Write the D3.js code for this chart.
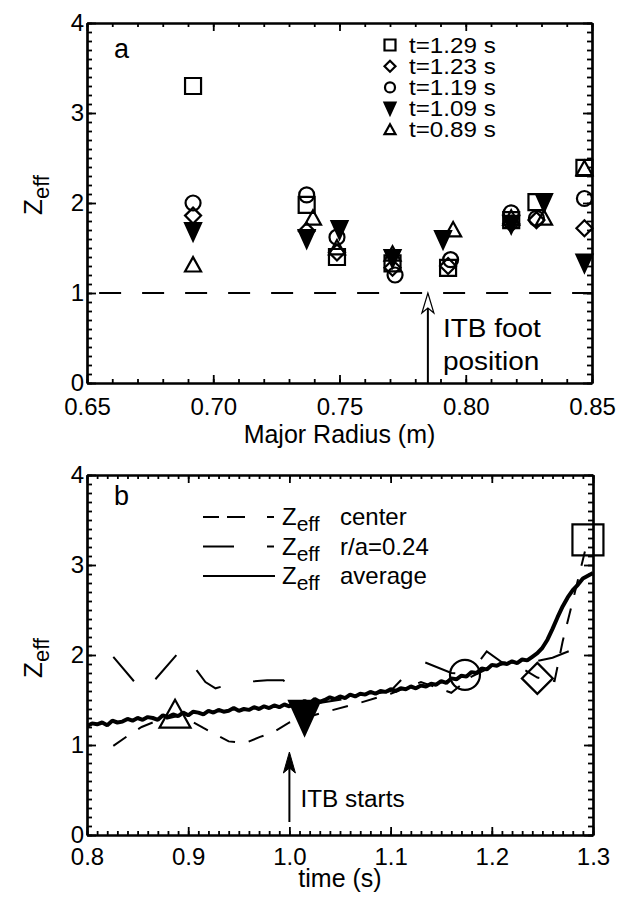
<!DOCTYPE html>
<html>
<head>
<meta charset="utf-8">
<script src="https://cdn.jsdelivr.net/npm/d3@7"></script>
<style>
  body { margin: 0; background: #fff; }
  svg text { font-family: "Liberation Sans", Arial, sans-serif; fill: #000; }
</style>
</head>
<body>
<div id="wrapper"></div>
<script>
// ---- panel a : Zeff profiles vs major radius ----
const legendTimes = ['t=1.29 s', 't=1.23 s', 't=1.19 s', 't=1.09 s', 't=0.89 s']
const markerTypes = ['square', 'diamond', 'circle', 'triDown', 'triUp']

const r129 = [0.692, 0.737, 0.749, 0.771, 0.793, 0.818, 0.828, 0.847]
const z129 = [3.30, 1.98, 1.40, 1.33, 1.28, 1.81, 2.01, 2.39]
const r123 = [0.692, 0.737, 0.749, 0.771, 0.793, 0.818, 0.828, 0.847]
const z123 = [1.86, 1.69, 1.45, 1.28, 1.30, 1.77, 1.81, 1.72]
const r119 = [0.692, 0.737, 0.749, 0.772, 0.794, 0.818, 0.828, 0.847]
const z119 = [2.00, 2.09, 1.62, 1.20, 1.37, 1.89, 1.83, 2.05]
const r109 = [0.692, 0.737, 0.750, 0.771, 0.791, 0.818, 0.831, 0.847]
const z109 = [1.68, 1.60, 1.70, 1.38, 1.59, 1.76, 2.00, 1.33]
const r089 = [0.692, 0.7395, 0.749, 0.771, 0.795, 0.818, 0.831, 0.847]
const z089 = [1.31, 1.83, 1.50, 1.43, 1.70, 1.83, 1.83, 2.38]

const xTicksA = [0.65, 0.70, 0.75, 0.80, 0.85]
const yTicks = [0, 1, 2, 3, 4]
const itbFootR = 0.785

// ---- panel b : Zeff time traces ----
const legendLabels = ['center', 'r/a=0.24', 'average']

const tCenter = [0.826, 0.840, 0.854, 0.867, 0.893, 0.915, 0.940, 0.956, 0.971, 0.984, 1.000, 1.030, 1.070, 1.100, 1.130, 1.160, 1.180, 1.200, 1.220, 1.245, 1.262, 1.270, 1.280, 1.292]
const zCenter = [0.99, 1.10, 1.20, 1.26, 1.33, 1.19, 1.04, 1.02, 1.09, 1.14, 1.25, 1.35, 1.47, 1.57, 1.70, 1.58, 1.76, 1.87, 1.92, 1.75, 1.71, 2.15, 2.60, 3.15]

const tMid = [0.826, 0.856, 0.893, 0.917, 0.927, 0.946, 0.978, 0.994, 1.006, 1.025, 1.060, 1.100, 1.129, 1.160, 1.178, 1.195, 1.210, 1.230, 1.260, 1.280, 1.293]
const zMid = [1.98, 1.58, 2.06, 1.70, 1.63, 1.69, 1.72, 1.72, 1.58, 1.46, 1.52, 1.60, 1.94, 1.80, 1.79, 2.04, 1.92, 1.90, 1.97, 2.06, 1.92]

const tAvg = [0.800, 0.805, 0.810, 0.815, 0.820, 0.825, 0.830, 0.835, 0.840, 0.845,
  0.850, 0.855, 0.860, 0.865, 0.870, 0.875, 0.880, 0.885, 0.890, 0.895,
  0.900, 0.905, 0.910, 0.915, 0.920, 0.925, 0.930, 0.935, 0.940, 0.945,
  0.950, 0.955, 0.960, 0.965, 0.970, 0.975, 0.980, 0.985, 0.990, 0.995,
  1.000, 1.005, 1.010, 1.015, 1.020, 1.025, 1.030, 1.035, 1.040, 1.045,
  1.050, 1.055, 1.060, 1.065, 1.070, 1.075, 1.080, 1.085, 1.090, 1.095,
  1.100, 1.105, 1.110, 1.115, 1.120, 1.125, 1.130, 1.135, 1.140, 1.145,
  1.150, 1.155, 1.160, 1.165, 1.170, 1.175, 1.180, 1.185, 1.190, 1.195,
  1.200, 1.205, 1.210, 1.215, 1.220, 1.225, 1.230, 1.235, 1.240, 1.245,
  1.250, 1.255, 1.260, 1.265, 1.270, 1.275, 1.280, 1.285, 1.290, 1.295, 1.300]
const zAvg = [1.21, 1.24, 1.23, 1.25, 1.22, 1.27, 1.25, 1.26, 1.29, 1.27,
  1.30, 1.28, 1.31, 1.30, 1.28, 1.33, 1.31, 1.34, 1.32, 1.36,
  1.33, 1.37, 1.36, 1.34, 1.38, 1.36, 1.39, 1.37, 1.38, 1.41,
  1.38, 1.40, 1.39, 1.42, 1.40, 1.43, 1.41, 1.44, 1.42, 1.45,
  1.43, 1.46, 1.45, 1.49, 1.46, 1.51, 1.48, 1.50, 1.53, 1.51,
  1.54, 1.52, 1.56, 1.54, 1.57, 1.56, 1.59, 1.57, 1.60, 1.59,
  1.62, 1.60, 1.63, 1.62, 1.65, 1.63, 1.66, 1.65, 1.68, 1.67,
  1.71, 1.69, 1.74, 1.73, 1.77, 1.76, 1.81, 1.80, 1.85, 1.84,
  1.89, 1.88, 1.91, 1.90, 1.93, 1.91, 1.95, 1.94, 1.98, 2.02,
  2.08, 2.17, 2.29, 2.42, 2.54, 2.64, 2.72, 2.78, 2.85, 2.88, 2.91]

// big markers on the time traces
const markTimes = [0.887, 1.015, 1.1735, 1.245, 1.295]
const markZeff = [1.33, 1.30, 1.78, 1.74, 3.28]
const markTypesB = ['triUp', 'triDown', 'circle', 'diamond', 'square']

const xTicksB = [0.8, 0.9, 1.0, 1.1, 1.2, 1.3]
const itbStart = 1.0

// ---- helpers ----
function markerPath(type, s) {
  // s = half size
  if (type === 'square') return `M${-s},${-s}H${s}V${s}H${-s}Z`
  if (type === 'diamond') return `M0,${-s}L${s},0L0,${s}L${-s},0Z`
  if (type === 'triUp') return `M0,${-s}L${s},${s * 0.8}L${-s},${s * 0.8}Z`
  return `M${-s},${-s * 1.1}L${s},${-s * 1.1}L0,${s * 1.1}Z`
}

function drawMarker(g, type, x, y, s, sw) {
  if (type === 'circle') {
    g.append('circle').attr('cx', x).attr('cy', y).attr('r', s)
      .attr('fill', 'none').attr('stroke', 'black').attr('stroke-width', sw)
  } else {
    g.append('path').attr('d', markerPath(type, s))
      .attr('transform', `translate(${x},${y})`)
      .attr('fill', type === 'triDown' ? 'black' : 'none')
      .attr('stroke', 'black').attr('stroke-width', sw)
  }
}

// text drawn a little wider than the font, like the original plot
function label(g, x, y, str, size, sx) {
  return g.append('text')
    .attr('transform', `translate(${x},${y}) scale(${sx},1)`)
    .style('font-size', size + 'px')
    .text(str)
}

function drawFrame(g, xScale, yScale, xMajor, xMinor, yMinor, xFmt, w, h, pad) {
  // minor ticks on all sides
  g.append('g').attr('transform', `translate(0,${h})`)
    .call(d3.axisBottom(xScale).tickValues(xMinor).tickSize(-4).tickSizeOuter(0).tickFormat(''))
  g.append('g')
    .call(d3.axisTop(xScale).tickValues(xMinor).tickSize(-4).tickSizeOuter(0).tickFormat(''))
  g.append('g')
    .call(d3.axisLeft(yScale).tickValues(yMinor).tickSize(-5).tickSizeOuter(0).tickFormat(''))
  g.append('g').attr('transform', `translate(${w},0)`)
    .call(d3.axisRight(yScale).tickValues(yMinor).tickSize(-5).tickSizeOuter(0).tickFormat(''))
  // major ticks + labels
  g.append('g').attr('class', 'lab').attr('transform', `translate(0,${h})`)
    .call(d3.axisBottom(xScale).tickValues(xMajor).tickSize(-8).tickSizeOuter(0).tickPadding(pad).tickFormat(xFmt))
  g.append('g')
    .call(d3.axisTop(xScale).tickValues(xMajor).tickSize(-8).tickSizeOuter(0).tickFormat(''))
  g.append('g').attr('class', 'lab')
    .call(d3.axisLeft(yScale).tickValues(yTicks).tickSize(-9).tickSizeOuter(0).tickPadding(3).tickFormat(d3.format('d')))
  g.append('g').attr('transform', `translate(${w},0)`)
    .call(d3.axisRight(yScale).tickValues(yTicks).tickSize(-9).tickSizeOuter(0).tickFormat(''))

  g.selectAll('.domain').attr('stroke-width', 2.2)
  g.selectAll('.tick line').attr('stroke-width', 1.8)
  g.selectAll('.lab text').style('font-size', '24px').style('font-family', '"Liberation Sans", Arial, sans-serif')
}

function zeffLabel(svg, x, y) {
  const t = svg.append('text')
    .attr('transform', `translate(${x},${y}) rotate(-90)`)
    .attr('text-anchor', 'middle')
    .style('font-size', '26px')
  t.append('tspan').text('Z')
  t.append('tspan').attr('dy', 7).style('font-size', '22px').text('eff')
}

function arrow(g, x, yTip, yEnd, filled) {
  g.append('line').attr('x1', x).attr('x2', x).attr('y1', yTip + 14).attr('y2', yEnd)
    .attr('stroke', 'black').attr('stroke-width', 2)
  g.append('path')
    .attr('d', filled ? `M${x},${yTip}L${x + 6},${yTip + 21}L${x},${yTip + 16}L${x - 6},${yTip + 21}Z`
      : `M${x},${yTip}L${x + 6},${yTip + 20}L${x},${yTip + 15}L${x - 6},${yTip + 20}Z`)
    .attr('fill', filled ? 'black' : 'white')
    .attr('stroke', 'black').attr('stroke-width', filled ? 1 : 1.2)
}

// ---- layout ----
const width = 641
const height = 905
const svg = d3.select('#wrapper').append('svg')
  .attr('width', width).attr('height', height)

const left = 87
const boxW = 505

// ================= panel a =================
const topA = 23
const hA = 360
const gA = svg.append('g').attr('transform', `translate(${left},${topA})`)

const xA = d3.scaleLinear().domain([0.65, 0.85]).range([0, boxW])
const yA = d3.scaleLinear().domain([0, 4]).range([hA, 0])

drawFrame(gA, xA, yA, xTicksA, d3.range(0, 21).map(i => 0.65 + i * 0.01), d3.range(0, 41).map(i => i * 0.1), d3.format('.2f'), boxW, hA, 15)

// Zeff = 1 reference
gA.append('line')
  .attr('x1', xA(0.6548)).attr('x2', boxW)
  .attr('y1', yA(1)).attr('y2', yA(1))
  .attr('stroke', 'black').attr('stroke-width', 2.2)
  .attr('stroke-dasharray', '22,21')

const seriesA = [[r129, z129], [r123, z123], [r119, z119], [r109, z109], [r089, z089]]
seriesA.forEach((s, k) => {
  s[0].forEach((r, i) => drawMarker(gA, markerTypes[k], xA(r), yA(s[1][i]), markerTypes[k] === 'circle' ? 7.5 : 8, 2.2))
})

// legend
legendTimes.forEach((lab, i) => {
  const yy = 22 + i * 21.2
  drawMarker(gA, markerTypes[i], 303, yy, markerTypes[i] === 'circle' ? 5 : 5.5, 2.2)
  label(gA, 322, yy + 7.5, lab, 22, 1.1)
})

label(gA, 27, 35, 'a', 27, 1)

arrow(gA, xA(itbFootR), yA(1), hA, false)
label(gA, xA(itbFootR) + 15, 314, 'ITB foot', 25, 1.12)
label(gA, xA(itbFootR) + 15, 347, 'position', 25, 1.12)

svg.append('text').attr('x', left + boxW / 2).attr('y', 443)
  .attr('text-anchor', 'middle').style('font-size', '25px').text('Major Radius (m)')
zeffLabel(svg, 42, 195)

// ================= panel b =================
const topB = 475
const hB = 360
const boxWB = 506
const gB = svg.append('g').attr('transform', `translate(${left},${topB})`)

const xB = d3.scaleLinear().domain([0.8, 1.3]).range([0, boxWB])
const yB = d3.scaleLinear().domain([0, 4]).range([hB, 0])

drawFrame(gB, xB, yB, xTicksB, d3.range(0, 51).map(i => 0.8 + i * 0.01), d3.range(0, 41).map(i => i * 0.1), d3.format('.1f'), boxWB, hB, 13)

const clip = svg.append('clipPath').attr('id', 'clipB')
clip.append('rect').attr('width', boxWB).attr('height', hB)

const lineB = d3.line().x(d => xB(d[0])).y(d => yB(d[1]))

const plotB = gB.append('g').attr('clip-path', 'url(#clipB)')
plotB.append('path')
  .attr('d', lineB(tAvg.map((t, i) => [t, zAvg[i]])))
  .attr('fill', 'none').attr('stroke', 'black').attr('stroke-width', 4)
  .attr('stroke-linejoin', 'bevel')
plotB.append('path')
  .attr('d', lineB(tCenter.map((t, i) => [t, zCenter[i]])))
  .attr('fill', 'none').attr('stroke', 'black').attr('stroke-width', 2)
  .attr('stroke-dasharray', '16,14')
plotB.append('path')
  .attr('d', lineB(tMid.map((t, i) => [t, zMid[i]])))
  .attr('fill', 'none').attr('stroke', 'black').attr('stroke-width', 2)
  .attr('stroke-dasharray', '32,33')

markTimes.forEach((t, i) => {
  const s = markTypesB[i] === 'circle' ? 15 : 15.5
  drawMarker(gB, markTypesB[i], xB(t), yB(markZeff[i]), s, 2.2)
})

// legend b
const dashes = ['16,8,18,22,7', '31,33,7', null]
legendLabels.forEach((lab, i) => {
  const yy = 42 + i * 29.5
  const ln = gB.append('line').attr('x1', 116).attr('x2', 188)
    .attr('y1', yy).attr('y2', yy)
    .attr('stroke', 'black').attr('stroke-width', 2)
  if (dashes[i]) ln.attr('stroke-dasharray', dashes[i])
  const t = gB.append('text').attr('x', 195).attr('y', yy + 8).style('font-size', '24px')
  t.append('tspan').text('Z')
  t.append('tspan').attr('dy', 6).style('font-size', '21px').text('eff')
  label(gB, 253, yy + 8, lab, 24, 1)
})

label(gB, 27, 30, 'b', 27, 1)

arrow(gB, xB(itbStart), 277, 347, true)
label(gB, xB(itbStart) + 11, 332, 'ITB starts', 23, 1.06)

svg.append('text').attr('x', left + boxWB / 2).attr('y', 887)
  .attr('text-anchor', 'middle').style('font-size', '25px').text('time (s)')
zeffLabel(svg, 42, 658)
</script>
</body>
</html>
